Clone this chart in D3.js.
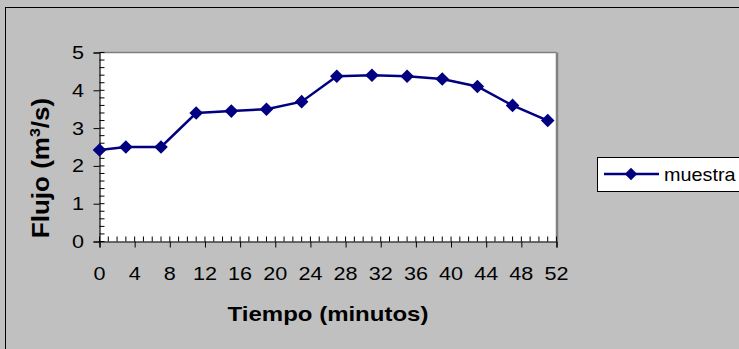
<!DOCTYPE html>
<html><head><meta charset="utf-8">
<script src="https://cdn.jsdelivr.net/npm/d3@7"></script>
<style>
html,body{margin:0;padding:0;background:#c0c0c0;}
svg{display:block;}
text{font-family:"Liberation Sans",Arial,sans-serif;fill:#000;}
</style></head>
<body>
<script>
const tiempo = [0,3,7,11,15,19,23,27,31,35,39,43,47,51];
const flujo  = [2.42,2.5,2.5,3.4,3.45,3.5,3.7,4.37,4.4,4.37,4.3,4.1,3.6,3.2];
const xTicks = [0,4,8,12,16,20,24,28,32,36,40,44,48,52];
const yTicks = [0,1,2,3,4,5];
const seriesName = "muestra";

const W=739,H=349, SX=1.2;
const svg=d3.select("body").append("svg").attr("width",W).attr("height",H);
svg.append("rect").attr("x",5.5).attr("y",7.5).attr("width",W).attr("height",H).attr("fill","#c0c0c0").attr("stroke","#000").attr("stroke-width",1);

const L=99.5,R=556.5,T=52.5,B=241.5;
const x=d3.scaleLinear().domain([0,52]).range([L,R]);
const y=d3.scaleLinear().domain([0,5]).range([B,T]);

svg.append("rect").attr("x",L).attr("y",T).attr("width",R-L).attr("height",B-T).attr("fill","#fff");
svg.append("line").attr("x1",L).attr("x2",R).attr("y1",T).attr("y2",T).attr("stroke","#808080").attr("stroke-width",1.5);
svg.append("line").attr("x1",R+0.5).attr("x2",R+0.5).attr("y1",T).attr("y2",B).attr("stroke","#808080").attr("stroke-width",2.5);

// minor ticks (inside)
const g=svg.append("g");
d3.range(0,53,1).forEach(v=>{g.append("line").attr("x1",x(v)).attr("x2",x(v)).attr("y1",B).attr("y2",B-5).attr("stroke","#000");});
d3.range(0,5.01,0.2).forEach(v=>{g.append("line").attr("x1",L).attr("x2",L+5).attr("y1",y(v)).attr("y2",y(v)).attr("stroke","#000");});

// axes
const xa=svg.append("g").attr("transform",`translate(0,${B})`).call(d3.axisBottom(x).tickValues(xTicks).tickSize(6).tickFormat(""));
const ya=svg.append("g").attr("transform",`translate(${L},0)`).call(d3.axisLeft(y).tickValues(yTicks).tickSize(6).tickFormat(""));
[xa,ya].forEach(a=>{a.select(".domain").attr("stroke","#000").attr("stroke-width",1.2);a.selectAll(".tick line").attr("stroke","#000");});

// tick labels
xTicks.forEach(v=>{svg.append("text").attr("transform",`translate(${x(v)},280) scale(${SX},1)`).attr("text-anchor","middle").attr("font-size",18).text(v);});
yTicks.forEach(v=>{svg.append("text").attr("transform",`translate(84,${y(v)+6.5}) scale(${SX},1)`).attr("text-anchor","end").attr("font-size",18).text(v);});

// line + markers
const line=d3.line().x((d,i)=>x(tiempo[i])).y(d=>y(d));
svg.append("path").datum(flujo).attr("d",line).attr("fill","none").attr("stroke","#000080").attr("stroke-width",2.5);
const diamond=d3.symbol().type(d3.symbolDiamond2).size(118);
svg.selectAll(".pt").data(flujo).enter().append("path").attr("d",diamond)
  .attr("transform",(d,i)=>`translate(${x(tiempo[i])},${y(d)})`).attr("fill","#000080");

// titles
svg.append("text").attr("transform",`translate(${(L+R)/2},321) scale(${SX},1)`).attr("text-anchor","middle").attr("font-size",20).attr("font-weight","bold").text("Tiempo (minutos)");
const yt=svg.append("text").attr("transform",`translate(49,168) scale(0.92,1) rotate(-90)`).attr("text-anchor","middle").attr("font-size",26).attr("font-weight","bold");
yt.append("tspan").text("Flujo (m");
yt.append("tspan").attr("font-size",16).attr("dy",-10).text("3");
yt.append("tspan").attr("dy",10).text("/s)");

// legend
svg.append("rect").attr("x",597.5).attr("y",157.5).attr("width",200).attr("height",34).attr("fill","#fff").attr("stroke","#000");
svg.append("line").attr("x1",604).attr("x2",659).attr("y1",174).attr("y2",174).attr("stroke","#000080").attr("stroke-width",2.5);
const diamondL=d3.symbol().type(d3.symbolDiamond2).size(100);
svg.append("path").attr("d",diamondL).attr("transform","translate(631,174)").attr("fill","#000080");
svg.append("text").attr("transform",`translate(664,181) scale(1.1,1)`).attr("font-size",18).text(seriesName);
</script>
</body></html>
